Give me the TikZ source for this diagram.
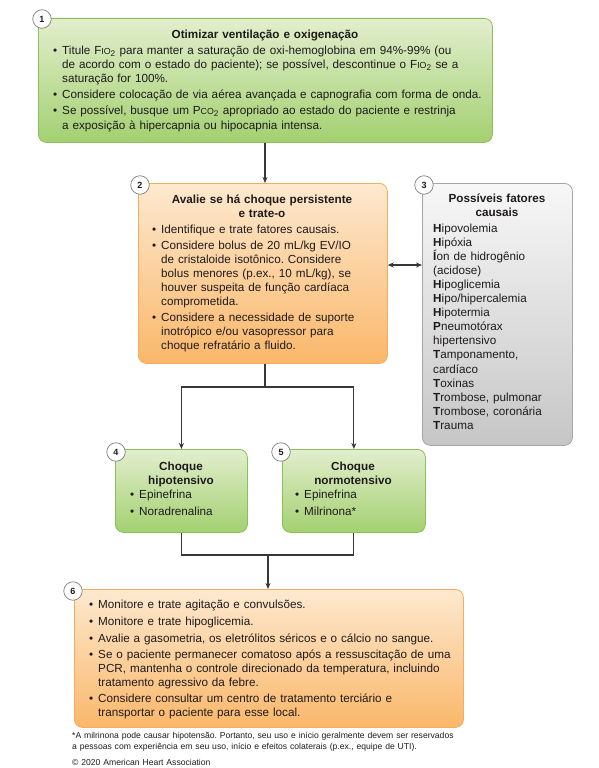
\documentclass[tikz,border=0pt]{standalone}
\usepackage{fontspec}
\setmainfont{Liberation Sans}
\usetikzlibrary{arrows.meta}
\frenchspacing
\definecolor{txt}{RGB}{30,27,28}
\definecolor{gTop}{RGB}{226,238,205}
\definecolor{gBot}{RGB}{163,208,112}
\definecolor{gBd}{RGB}{140,190,92}
\definecolor{oTop}{RGB}{253,233,207}
\definecolor{oBot}{RGB}{250,183,106}
\definecolor{oBd}{RGB}{245,172,92}
\definecolor{grTop}{RGB}{247,247,247}
\definecolor{grBot}{RGB}{198,198,198}
\definecolor{grBd}{RGB}{165,165,165}
\definecolor{lnc}{RGB}{55,55,55}
\definecolor{circBd}{RGB}{130,130,130}
\newcommand{\bitem}[1]{\noindent\hangindent=9pt\hangafter=1\makebox[9pt][l]{\textbullet}#1\par}
\newcommand{\gap}{\vspace{2pt}}
\newcommand{\sm}[1]{{\fontsize{8.8}{10}\selectfont #1}}
\tikzset{
  box/.style={rectangle, rounded corners=8pt, line width=0.8pt, inner sep=0pt, anchor=north west},
  greenbox/.style={box, draw=gBd, top color=gTop, bottom color=gBot},
  orangebox/.style={box, draw=oBd, top color=oTop, bottom color=oBot},
  graybox/.style={box, draw=grBd, top color=grTop, bottom color=grBot},
  numc/.style={circle, draw=circBd, fill=white, line width=0.7pt, minimum size=18.5pt, inner sep=0pt, font=\fontsize{9}{9}\selectfont\bfseries, text=txt},
  body/.style={anchor=base west, inner sep=0pt, text width=460pt, align=left, text=txt, font=\fontsize{11.7}{14}\selectfont},
  title/.style={anchor=base, inner sep=0pt, align=center, text=txt, font=\fontsize{11.7}{14}\selectfont\bfseries},
  conn/.style={draw=lnc, line width=1.1pt},
  arr/.style={conn, -{Stealth[length=6pt,width=5pt]}},
  darr/.style={conn, {Stealth[length=6pt,width=5pt]}-{Stealth[length=6pt,width=5pt]}},
}
\begin{document}
\begin{tikzpicture}[x=1pt,y=-1pt]
\useasboundingbox (0,0) rectangle (598,768);
% boxes
\node[greenbox, minimum width=454pt, minimum height=124pt] (b1) at (38,18) {};
\node[orangebox, minimum width=249pt, minimum height=180pt] (b2) at (138,183) {};
\node[graybox, minimum width=150pt, minimum height=262pt] (b3) at (422,183) {};
\node[greenbox, minimum width=132pt, minimum height=83pt] (b4) at (115,449) {};
\node[greenbox, minimum width=143pt, minimum height=83pt] (b5) at (282,449) {};
\node[orangebox, minimum width=389pt, minimum height=138pt] (b6) at (74,589) {};
% number circles
\node[numc] (n1) at (42,19) {1};
\node[numc] (n2) at (140,185) {2};
\node[numc] (n3) at (424,185) {3};
\node[numc] (n4) at (116,452) {4};
\node[numc] (n5) at (281,452) {5};
\node[numc] (n6) at (73,591) {6};
% box 1 text
\node[title, text width=300pt] (t1) at (265,38) {Otimizar ventilação e oxigenação};
\node[body] (x1) at (53,55) {%
\bitem{Titule F\sm{IO}\textsubscript{2} para manter a saturação de oxi-hemoglobina em 94\%-99\% (ou\newline de acordo com o estado do paciente); se possível, descontinue o F\sm{IO}\textsubscript{2} se a\newline saturação for 100\%.}\gap
\bitem{Considere colocação de via aérea avançada e capnografia com forma de onda.}\gap
\bitem{Se possível, busque um P\sm{CO}\textsubscript{2} apropriado ao estado do paciente e restrinja\newline a exposição à hipercapnia ou hipocapnia intensa.}};
% box 2 text
\node[title, text width=240pt] (t2) at (262,203) {Avalie se há choque persistente\\e trate-o};
\node[body] (x2) at (152,233) {%
\bitem{Identifique e trate fatores causais.}\gap
\bitem{Considere bolus de 20 mL/kg EV/IO\newline de cristaloide isotônico. Considere\newline bolus menores (p.ex., 10 mL/kg), se\newline houver suspeita de função cardíaca\newline comprometida.}\gap
\bitem{Considere a necessidade de suporte\newline inotrópico e/ou vasopressor para\newline choque refratário a fluido.}};
% box 3 text
\node[title, text width=140pt] (t3) at (497,202) {Possíveis fatores\\causais};
\node[body, font=\fontsize{11.7}{14.1}\selectfont] (x3) at (433,232) {%
\textbf{H}ipovolemia\\
\textbf{H}ipóxia\\
\textbf{Í}on de hidrogênio\\
(acidose)\\
\textbf{H}ipoglicemia\\
\textbf{H}ipo/hipercalemia\\
\textbf{H}ipotermia\\
\textbf{P}neumotórax\\
hipertensivo\\
\textbf{T}amponamento,\\
cardíaco\\
\textbf{T}oxinas\\
\textbf{T}rombose, pulmonar\\
\textbf{T}rombose, coronária\\
\textbf{T}rauma};
% box 4 and 5 text
\node[title, text width=120pt] (t4) at (181,470) {Choque\\hipotensivo};
\node[body] (x4) at (130,498) {\bitem{Epinefrina}\vspace{3pt}\bitem{Noradrenalina}};
\node[title, text width=130pt] (t5) at (353,470) {Choque\\normotensivo};
\node[body] (x5) at (295,498) {\bitem{Epinefrina}\vspace{3pt}\bitem{Milrinona*}};
% box 6 text
\node[body] (x6) at (89,608) {%
\bitem{Monitore e trate agitação e convulsões.}\gap\vspace{1pt}
\bitem{Monitore e trate hipoglicemia.}\gap\vspace{1pt}
\bitem{Avalie a gasometria, os eletrólitos séricos e o cálcio no sangue.}\gap
\bitem{Se o paciente permanecer comatoso após a ressuscitação de uma\newline PCR, mantenha o controle direcionado da temperatura, incluindo\newline tratamento agressivo da febre.}\gap
\bitem{Considere consultar um centro de tratamento terciário e\newline transportar o paciente para esse local.}};
% footnote
\node[body, font=\fontsize{8.6}{11.5}\selectfont] (fn) at (72,738) {*A milrinona pode causar hipotensão. Portanto, seu uso e início geralmente devem ser reservados\newline a pessoas com experiência em seu uso, início e efeitos colaterais (p.ex., equipe de UTI).};
\node[body, font=\fontsize{8.6}{11}\selectfont] (cp) at (72,765) {© 2020 American Heart Association};
% connectors
\coordinate (dbl) at (0,265);
\coordinate (split) at (265,387);
\coordinate (join) at (268,555);
\draw[arr] (b1.south -| split) -- (b2.north -| split);
\draw[conn] (b2.south -| split) -- (split);
\draw[arr] (split) -| (b4.north);
\draw[arr] (split) -| (b5.north);
\draw[conn] (b4.south) |- (join);
\draw[conn] (b5.south) |- (join);
\draw[arr] (join) -- (b6.north -| join);
\draw[darr] (b2.east |- dbl) -- (b3.west |- dbl);
\end{tikzpicture}
\end{document}
